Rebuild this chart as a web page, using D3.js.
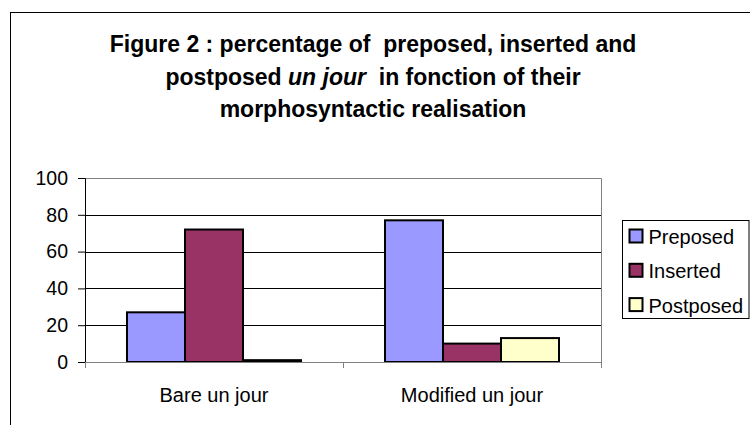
<!DOCTYPE html>
<html>
<head>
<meta charset="utf-8">
<script src="https://cdn.jsdelivr.net/npm/d3@7"></script>
<style>
  body { margin: 0; background: #fff; }
  svg text { font-family: "Liberation Sans", Arial, sans-serif; }
</style>
</head>
<body>
<div id="chart"></div>
<script>
var categories = ["Bare un jour", "Modified un jour"];
var series = ["Preposed", "Inserted", "Postposed"];
var preposed = [27, 77];
var inserted = [72, 10];
var postposed = [1, 13];
var yTicks = [0, 20, 40, 60, 80, 100];
var colors = ["#9999ff", "#993366", "#ffffcc"];

var width = 750, height = 425;
var margin = { top: 178, right: 149, bottom: 63, left: 85 };

var svg = d3.select("#chart")
  .append("svg")
  .attr("width", width)
  .attr("height", height);

// outer frame (runs off the page right and bottom)
svg.append("rect")
  .attr("x", 10.5).attr("y", 12.5)
  .attr("width", 800).attr("height", 500)
  .attr("fill", "none").attr("stroke", "#000");

/////////////////////////////////////////////////////////////
/// title, three centred lines

var titleLines = [
  { y: 52, parts: [["Figure 2 : percentage of  preposed, inserted and", "normal"]] },
  { y: 85, parts: [["postposed ", "normal"], ["un jour", "italic"], ["  in fonction of their", "normal"]] },
  { y: 117, parts: [["morphosyntactic realisation", "normal"]] }
];

titleLines.forEach(function (line) {
  var t = svg.append("text")
    .attr("x", 373)
    .attr("y", line.y)
    .attr("text-anchor", "middle")
    .attr("font-size", 23)
    .attr("font-weight", "bold")
    .style("white-space", "pre");
  line.parts.forEach(function (p) {
    t.append("tspan").attr("font-style", p[1]).text(p[0]);
  });
});

/////////////////////////////////////////////////////////////
/// scales

var plotW = width - margin.left - margin.right;
var plotH = height - margin.top - margin.bottom;

var g = svg.append("g")
  .attr("transform", "translate(" + margin.left + "," + margin.top + ")");

var x = d3.scaleBand().domain(categories).range([0, plotW]).padding(0);
var xs = d3.scaleBand().domain(series).range([0, x.bandwidth()]).paddingInner(0).paddingOuter(0.724);
var y = d3.scaleLinear().domain([0, 100]).range([plotH, 0]);
var color = d3.scaleOrdinal().domain(series).range(colors);

var table = categories.map(function (c, i) {
  return { cat: c, values: [preposed[i], inserted[i], postposed[i]] };
});

// gridlines
g.append("g")
  .selectAll("line")
  .data(yTicks.filter(function (d) { return d > 0 && d < 100; }))
  .join("line")
  .attr("x1", 0).attr("x2", plotW)
  .attr("y1", function (d) { return Math.round(y(d)) + 0.5; })
  .attr("y2", function (d) { return Math.round(y(d)) + 0.5; })
  .attr("stroke", "#000");

// plot area border top and right
g.append("path")
  .attr("d", "M0," + 0.5 + "H" + (plotW + 0.5) + "V" + plotH)
  .attr("fill", "none")
  .attr("stroke", "#808080");

// bars
g.append("g")
  .selectAll("g")
  .data(table)
  .join("g")
  .attr("transform", function (d) { return "translate(" + x(d.cat) + ",0)"; })
  .selectAll("rect")
  .data(function (d) { return d.values.map(function (v, i) { return { key: series[i], value: v }; }); })
  .join("rect")
  .attr("x", function (d) { return xs(d.key); })
  .attr("y", function (d) { return y(d.value); })
  .attr("width", xs.bandwidth())
  .attr("height", function (d) { return plotH - y(d.value); })
  .attr("fill", function (d) { return color(d.key); })
  .attr("stroke", "#000")
  .attr("stroke-width", 2);

// y axis
g.append("g")
  .call(d3.axisLeft(y).tickValues(yTicks).tickSize(7).tickPadding(10))
  .call(function (a) { a.select(".domain").attr("stroke", "#000"); })
  .call(function (a) {
    a.selectAll("text")
      .attr("font-size", 19.5)
      .attr("font-family", "Liberation Sans, Arial, sans-serif")
      .attr("fill", "#000");
  });

// x axis
g.append("g")
  .attr("transform", "translate(0," + plotH + ")")
  .call(d3.axisBottom(x).tickSize(0).tickPadding(26).tickSizeOuter(0))
  .call(function (a) { a.select(".domain").attr("stroke", "#808080"); })
  .call(function (a) {
    a.selectAll("text")
      .attr("font-size", 20)
      .attr("font-family", "Liberation Sans, Arial, sans-serif")
      .attr("fill", "#000");
  });

// category separators on x axis
g.append("g")
  .selectAll("line")
  .data([0, plotW / 2, plotW])
  .join("line")
  .attr("x1", function (d) { return Math.round(d) + 0.5; })
  .attr("x2", function (d) { return Math.round(d) + 0.5; })
  .attr("y1", plotH).attr("y2", plotH + 6)
  .attr("stroke", "#808080");

/////////////////////////////////////////////////////////////
/// legend

var legend = svg.append("g").attr("transform", "translate(622.5,220.5)");

legend.append("rect")
  .attr("width", 126.5).attr("height", 98)
  .attr("fill", "#fff").attr("stroke", "#000");

var item = legend.selectAll("g")
  .data(series)
  .join("g")
  .attr("transform", function (d, i) { return "translate(7," + (9 + i * 34.3) + ")"; });

item.append("rect")
  .attr("width", 13).attr("height", 13)
  .attr("fill", function (d) { return color(d); })
  .attr("stroke", "#000").attr("stroke-width", 2);

item.append("text")
  .attr("x", 19).attr("y", 14.5)
  .attr("font-size", 20)
  .text(function (d) { return d; });
</script>
</body>
</html>
